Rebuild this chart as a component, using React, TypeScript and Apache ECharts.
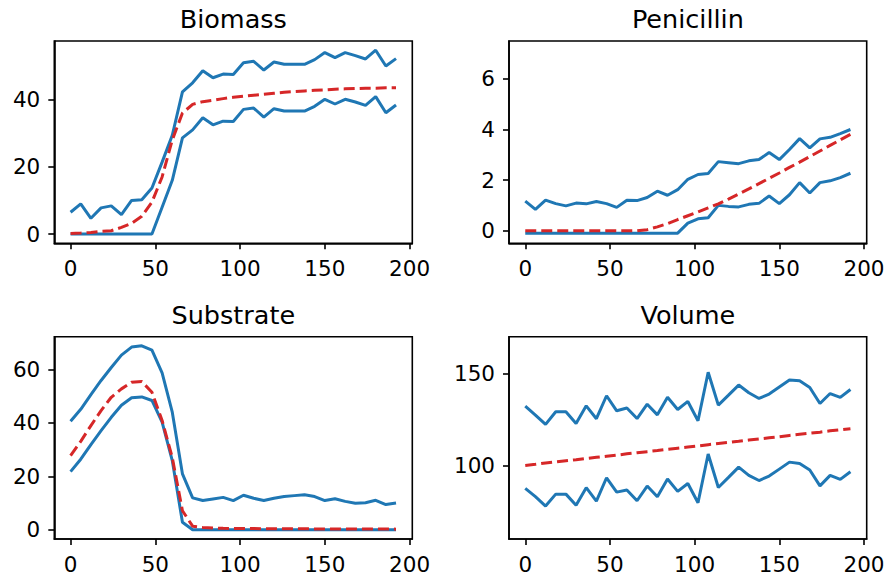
import React, { useEffect, useRef } from "react";
import * as echarts from "echarts";

const times = [0, 6, 12, 18, 24, 30, 36, 42, 48, 54, 60, 66, 72, 78, 84, 90, 96, 102, 108, 114, 120, 126, 132, 138, 144, 150, 156, 162, 168, 174, 180, 186, 192];

const biomassUpper = [6.5, 9.0, 4.7, 7.8, 8.4, 5.8, 10.0, 10.2, 13.7, 21.4, 29.4, 42.3, 45.0, 48.6, 46.5, 47.6, 47.5, 51.0, 51.4, 48.8, 51.2, 50.5, 50.5, 50.5, 51.9, 54.0, 52.5, 54.0, 53.1, 52.1, 54.7, 50.0, 52.2];
const biomassLower = [0, 0, 0, 0, 0, 0, 0, 0, 0, 8.0, 16.0, 28.6, 31.0, 34.6, 32.5, 33.6, 33.5, 37.1, 37.5, 34.8, 37.3, 36.6, 36.6, 36.6, 38.0, 40.1, 38.7, 40.1, 39.3, 38.3, 40.9, 36.1, 38.4];
const biomassMean = [0.2, 0.3, 0.5, 0.8, 1.0, 2.0, 3.2, 5.3, 9.5, 17.0, 28.0, 36.0, 38.6, 39.4, 39.8, 40.3, 40.7, 41.0, 41.3, 41.6, 41.9, 42.2, 42.4, 42.6, 42.8, 42.9, 43.1, 43.2, 43.3, 43.4, 43.4, 43.5, 43.5];

const penicillinUpper = [1.17, 0.84, 1.21, 1.07, 0.98, 1.09, 1.06, 1.15, 1.07, 0.92, 1.2, 1.19, 1.31, 1.56, 1.4, 1.62, 2.03, 2.22, 2.26, 2.73, 2.69, 2.65, 2.76, 2.81, 3.09, 2.81, 3.21, 3.64, 3.27, 3.63, 3.69, 3.84, 4.0];
const penicillinLower = [-0.1, -0.1, -0.1, -0.1, -0.1, -0.1, -0.1, -0.1, -0.1, -0.1, -0.1, -0.1, -0.1, -0.1, -0.1, -0.1, 0.3, 0.47, 0.51, 1.0, 0.96, 0.94, 1.04, 1.08, 1.37, 1.07, 1.42, 1.9, 1.49, 1.9, 1.97, 2.1, 2.27];
const penicillinMean = [0, 0, 0, 0, 0, 0, 0, 0, 0, 0, 0, 0, 0.04, 0.15, 0.28, 0.44, 0.59, 0.74, 0.9, 1.06, 1.25, 1.45, 1.65, 1.86, 2.07, 2.28, 2.5, 2.71, 2.93, 3.15, 3.37, 3.59, 3.81];

const substrateUpper = [40.6, 45.1, 50.6, 55.9, 60.75, 65.4, 68.4, 68.9, 67.25, 58.75, 44, 20.9, 11.9, 10.9, 11.5, 12.1, 10.9, 12.9, 11.75, 10.9, 11.75, 12.4, 12.75, 13.1, 12.4, 10.9, 11.6, 10.6, 9.9, 10.1, 11, 9.4, 10];
const substrateLower = [21.75, 26.4, 31.9, 37.1, 42.1, 46.6, 49.4, 49.75, 48.4, 40.25, 25.9, 2.75, 0, 0, 0, 0, 0, 0, 0, 0, 0, 0, 0, 0, 0, 0, 0, 0, 0, 0, 0, 0, 0];
const substrateMean = [27.75, 33.1, 39, 44.6, 49.6, 52.75, 55.25, 55.5, 51.5, 40.9, 27.0, 7.1, 1.3, 0.8, 0.6, 0.5, 0.45, 0.42, 0.4, 0.38, 0.36, 0.34, 0.32, 0.3, 0.29, 0.28, 0.27, 0.26, 0.25, 0.24, 0.23, 0.22, 0.2];

const volumeUpper = [132.2, 127.4, 122.3, 129.2, 129.2, 122.8, 132.4, 125.4, 137.9, 129.7, 131.2, 125.5, 133.3, 127.5, 137.1, 130.4, 134.8, 124.3, 150.7, 132.8, 138.2, 143.7, 139.5, 136.4, 138.8, 142.6, 146.4, 146.0, 142.4, 133.7, 139.1, 137.0, 141.3];
const volumeLower = [87.5, 83.0, 77.9, 84.4, 84.4, 78.3, 87.9, 80.6, 93.3, 85.5, 86.6, 80.8, 88.8, 83.0, 92.6, 85.9, 90.2, 79.7, 106.2, 88.0, 93.5, 99.1, 94.6, 91.8, 94.2, 98.0, 101.8, 101.1, 97.5, 88.9, 94.6, 92.4, 96.6];
const volumeMean = [100, 100.6, 101.3, 101.9, 102.5, 103.1, 103.8, 104.4, 105, 105.6, 106.3, 106.9, 107.5, 108.1, 108.8, 109.4, 110, 110.6, 111.3, 111.9, 112.5, 113.1, 113.8, 114.4, 115, 115.6, 116.3, 116.9, 117.5, 118.1, 118.8, 119.4, 120];

const titles = ["Biomass", "Penicillin", "Substrate", "Volume"];
const xTicks = [0, 50, 100, 150, 200];
const yTicks = [
  [0, 20, 40],
  [0, 2, 4, 6],
  [0, 20, 40, 60],
  [100, 150],
];
const yRanges = [
  [-2.74, 57.44],
  [-0.5, 7.5],
  [-3.5, 72.3],
  [60, 170],
];
const panels = [
  [biomassUpper, biomassLower, biomassMean],
  [penicillinUpper, penicillinLower, penicillinMean],
  [substrateUpper, substrateLower, substrateMean],
  [volumeUpper, volumeLower, volumeMean],
];

const FONT = "DejaVu Sans";
const BLUE = "#1f77b4";
const RED = "#d62728";

export default function App() {
  const ref = useRef<HTMLDivElement>(null);
  useEffect(() => {
    if (!ref.current) return;
    const chart = echarts.init(ref.current, null, { renderer: "svg" });
    const grids = [
      { left: 54.3, top: 41, width: 358, height: 202.3 },
      { left: 509, top: 41, width: 357.7, height: 202.3 },
      { left: 54.3, top: 336.7, width: 358, height: 202.3 },
      { left: 509, top: 336.7, width: 357.7, height: 202.3 },
    ];
    const pair = (ys: number[]) => times.map((t, i) => [t, ys[i]]);
    const axisLineStyle = { color: "#000", width: 1.6 };
    const option: any = {
      animation: false,
      backgroundColor: "#fff",
      title: grids.map((g, i) => ({
        text: titles[i],
        left: g.left + g.width / 2,
        top: g.top - 35,
        textAlign: "center",
        padding: 0,
        textStyle: { fontSize: 25.5, fontWeight: "normal", fontFamily: FONT, color: "#000" },
      })),
      grid: grids.map((g) => ({
        ...g,
        show: true,
        borderColor: "#000",
        borderWidth: 1.6,
        backgroundColor: "transparent",
        containLabel: false,
      })),
      xAxis: grids.map((_, i) => ({
        type: "value",
        gridIndex: i,
        min: -9.6,
        max: 201.6,
        axisLine: { show: true, onZero: false, lineStyle: axisLineStyle },
        axisTick: { show: true, length: 6, lineStyle: axisLineStyle, customValues: xTicks },
        axisLabel: { customValues: xTicks, fontSize: 21.5, color: "#000", fontFamily: FONT, margin: 14 },
        splitLine: { show: false },
      })),
      yAxis: grids.map((_, i) => ({
        type: "value",
        gridIndex: i,
        min: yRanges[i][0],
        max: yRanges[i][1],
        axisLine: { show: true, onZero: false, lineStyle: axisLineStyle },
        axisTick: { show: true, length: 6, lineStyle: axisLineStyle, customValues: yTicks[i] },
        axisLabel: { customValues: yTicks[i], fontSize: 21.5, color: "#000", fontFamily: FONT, margin: 14 },
        splitLine: { show: false },
      })),
      series: panels.flatMap((p, i) => [
        {
          type: "line", xAxisIndex: i, yAxisIndex: i, data: pair(p[0]), showSymbol: false,
          lineStyle: { color: BLUE, width: 3 }, itemStyle: { color: BLUE },
        },
        {
          type: "line", xAxisIndex: i, yAxisIndex: i, data: pair(p[1]), showSymbol: false,
          lineStyle: { color: BLUE, width: 3 }, itemStyle: { color: BLUE },
        },
        {
          type: "line", xAxisIndex: i, yAxisIndex: i, data: pair(p[2]), showSymbol: false,
          lineStyle: { color: RED, width: 3, type: [11, 5] }, itemStyle: { color: RED },
        },
      ]),
    };
    chart.setOption(option);
    return () => chart.dispose();
  }, []);
  return <div ref={ref} style={{ position: "absolute", left: 0, top: 0, width: 891, height: 577 }} />;
}
